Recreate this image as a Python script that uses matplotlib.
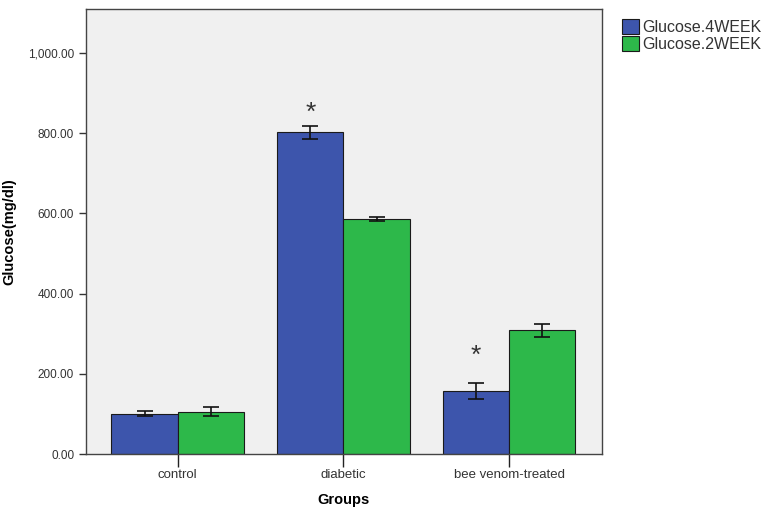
import matplotlib
matplotlib.use("Agg")
import matplotlib.pyplot as plt
import numpy as np
from matplotlib.ticker import FuncFormatter

plt.rcParams["font.family"] = ["Liberation Sans", "DejaVu Sans"]

groups = ["control", "diabetic", "bee venom-treated"]
week4 = [101, 802, 157]
week4_err = [7, 17, 20]
week2 = [106, 586, 309]
week2_err = [11, 6, 16]
star_groups = [1, 2]
star_heights = [852, 246]

blue = "#3D55AC"
green = "#2DB84A"

fig = plt.figure(figsize=(7.78, 5.13), dpi=100)
ax = fig.add_axes([0.1105, 0.115, 0.6632, 0.8674])
ax.set_facecolor("#F0F0F0")

x = np.arange(len(groups))
w = 0.4
ax.bar(x - w / 2, week4, w, color=blue, edgecolor="#1a1a1a", linewidth=0.8,
       label="Glucose.4WEEK")
ax.bar(x + w / 2, week2, w, color=green, edgecolor="#1a1a1a", linewidth=0.8,
       label="Glucose.2WEEK")
ax.errorbar(x - w / 2, week4, yerr=week4_err, fmt="none", ecolor="#111111",
            elinewidth=1.2, capsize=6, capthick=1.2)
ax.errorbar(x + w / 2, week2, yerr=week2_err, fmt="none", ecolor="#111111",
            elinewidth=1.2, capsize=6, capthick=1.2)

for g, h in zip(star_groups, star_heights):
    ax.text(g - w / 2, h, "*", ha="center", va="center", fontsize=19,
            color="#333333")

ax.set_xlim(-0.554, 2.56)
ax.set_ylim(0, 1110)
ax.set_yticks([0, 200, 400, 600, 800, 1000])
ax.yaxis.set_major_formatter(FuncFormatter(lambda v, p: f"{v:,.2f}"))
ax.set_xticks(x)
ax.set_xticklabels(groups)
ax.tick_params(axis="y", length=5, width=1, colors="#333333", labelsize=8.5,
               labelcolor="#333333")
ax.tick_params(axis="x", length=9, width=1, colors="#222222", labelsize=9.5,
               labelcolor="#333333", pad=2)

for s in ax.spines.values():
    s.set_color("#444444")
    s.set_linewidth(1)

ax.set_ylabel("Glucose(mg/dl)", fontsize=10.5, fontweight="bold")
ax.yaxis.set_label_coords(-0.134, 0.5)
ax.set_xlabel("Groups", fontsize=10.5, fontweight="bold")
ax.xaxis.set_label_coords(0.5, -0.088)

leg = ax.legend(loc="upper left", bbox_to_anchor=(1.02, 1.0), frameon=False,
                fontsize=11.5, handlelength=1.1, handleheight=1.1,
                handletextpad=0.15, labelspacing=0.05, borderaxespad=0.2)
for t in leg.get_texts():
    t.set_color("#333333")

fig.savefig("out.png", dpi=100)
